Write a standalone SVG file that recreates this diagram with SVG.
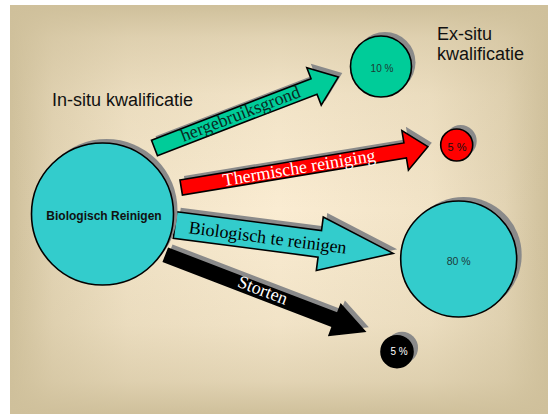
<svg xmlns="http://www.w3.org/2000/svg" width="548" height="414" viewBox="0 0 548 414">
  <defs>
    <linearGradient id="edgeH" x1="0" y1="0" x2="1" y2="0">
      <stop offset="0" stop-color="#cfc09b" stop-opacity="1"/>
      <stop offset="0.08" stop-color="#cfc09b" stop-opacity="0.55"/>
      <stop offset="0.22" stop-color="#cfc09b" stop-opacity="0.2"/>
      <stop offset="0.5" stop-color="#cfc09b" stop-opacity="0"/>
      <stop offset="0.78" stop-color="#cfc09b" stop-opacity="0.2"/>
      <stop offset="0.92" stop-color="#cfc09b" stop-opacity="0.55"/>
      <stop offset="1" stop-color="#cfc09b" stop-opacity="1"/>
    </linearGradient>
    <linearGradient id="edgeV" x1="0" y1="0" x2="0" y2="1">
      <stop offset="0" stop-color="#cfc09b" stop-opacity="1"/>
      <stop offset="0.08" stop-color="#cfc09b" stop-opacity="0.55"/>
      <stop offset="0.22" stop-color="#cfc09b" stop-opacity="0.2"/>
      <stop offset="0.5" stop-color="#cfc09b" stop-opacity="0"/>
      <stop offset="0.78" stop-color="#cfc09b" stop-opacity="0.2"/>
      <stop offset="0.92" stop-color="#cfc09b" stop-opacity="0.55"/>
      <stop offset="1" stop-color="#cfc09b" stop-opacity="1"/>
    </linearGradient>
    <style>
      .shadow { fill: #8a8a8a; }
      .outline { stroke: #000; stroke-width: 1.6; stroke-linejoin: miter; }
      .title { font-family: "Liberation Sans", Arial, sans-serif; font-size: 18px; fill: #111; }
      .label { font-family: "Liberation Serif", "Times New Roman", serif; font-size: 18px; text-anchor: middle; }
      .pct { font-family: "Liberation Sans", Arial, sans-serif; text-anchor: middle; }
      .teal { fill: #00cc99; }
      .cyan { fill: #33cccc; }
      .red { fill: #ff0000; }
      .black { fill: #000; }
    </style>
  </defs>

  <!-- backdrop -->
  <rect x="0" y="0" width="548" height="414" fill="#ffffff"/>
  <g id="backdrop">
    <rect x="10" y="5" width="538" height="409" fill="#faecd2"/>
    <rect x="10" y="5" width="538" height="409" fill="url(#edgeH)"/>
    <rect x="10" y="5" width="538" height="409" fill="url(#edgeV)"/>
  </g>

  <!-- headings -->
  <text class="title" x="52" y="106">In-situ kwalificatie</text>
  <text class="title" x="437" y="40">Ex-situ</text>
  <text class="title" x="437" y="60">kwalificatie</text>

  <!-- flow arrows -->
  <g id="connectors">
    <g id="arrow-hergebruiksgrond" transform="translate(154.5,148) rotate(-21.1)">
      <polygon class="shadow" transform="rotate(21.1) translate(4,-4) rotate(-21.1)" points="0,-8.3 171,-8.3 171,-20 197,0 171,20 171,8.3 0,8.3"/>
      <polygon class="teal outline" points="0,-8.3 171,-8.3 171,-20 197,0 171,20 171,8.3 0,8.3"/>
      <text class="label" x="92.5" y="4.8" fill="#0b2a22">hergebruiksgrond</text>
    </g>
    <g id="arrow-thermisch" transform="translate(181.2,187.5) rotate(-9.4)">
      <polygon class="shadow" transform="rotate(9.4) translate(4,-4) rotate(-9.4)" points="0,-7.6 227,-7.6 227,-20 250,0 227,20 227,7.6 0,7.6"/>
      <polygon class="red outline" points="0,-7.6 227,-7.6 227,-20 250,0 227,20 227,7.6 0,7.6"/>
      <text class="label" x="119.5" y="5.6" fill="#ffffff">Thermische reiniging</text>
    </g>
    <g id="arrow-biologisch" transform="translate(175,225) rotate(7.4)">
      <polygon class="shadow" transform="rotate(-7.4) translate(4,-4) rotate(7.4)" points="0,-13.4 146,-13.4 146,-27 220,0 146,27 146,13.4 0,13.4"/>
      <polygon class="cyan outline" points="0,-13.4 146,-13.4 146,-27 220,0 146,27 146,13.4 0,13.4"/>
      <text class="label" x="93.6" y="6.5" fill="#000">Biologisch te reinigen</text>
    </g>
    <g id="arrow-storten" transform="translate(166,255) rotate(21)">
      <polygon class="shadow" transform="rotate(-21) translate(4,-4) rotate(21)" points="0,-7 181,-7 181,-16.5 213,0 181,16.5 181,7 0,7"/>
      <polygon class="black outline" points="0,-7 181,-7 181,-16.5 213,0 181,16.5 181,7 0,7"/>
      <text class="label" x="103" y="4" fill="#ffffff">Storten</text>
    </g>
  </g>

  <!-- source node -->
  <g id="node-biologisch-reinigen">
    <circle class="shadow" cx="106.5" cy="210" r="71"/>
    <circle class="cyan outline" cx="102.5" cy="214" r="71"/>
    <text x="104" y="220" font-family="Liberation Sans, Arial, sans-serif" font-size="12" font-weight="bold" text-anchor="middle" fill="#111">Biologisch Reinigen</text>
  </g>

  <!-- destination nodes -->
  <g id="node-10">
    <circle class="shadow" cx="385" cy="62.5" r="30.5"/>
    <circle class="teal outline" cx="381" cy="66.5" r="30.5"/>
    <text class="pct" x="382" y="72" font-size="10" fill="#1d3a33">10 %</text>
  </g>
  <g id="node-5-thermisch">
    <circle class="shadow" cx="460.7" cy="141" r="16"/>
    <circle class="red outline" cx="456.7" cy="145" r="16"/>
    <text class="pct" x="457" y="150.5" font-size="11" fill="#111">5 %</text>
  </g>
  <g id="node-80">
    <circle class="shadow" cx="463.7" cy="255" r="58"/>
    <circle class="cyan outline" cx="458.7" cy="259" r="58"/>
    <text class="pct" x="458.7" y="264.5" font-size="10.5" fill="#1d3a3a">80 %</text>
  </g>
  <g id="node-5-storten">
    <circle class="shadow" cx="402" cy="347.7" r="16"/>
    <circle class="black outline" cx="397" cy="351.7" r="16"/>
    <text class="pct" x="399" y="354.5" font-size="10" fill="#ffffff">5 %</text>
  </g>
</svg>
